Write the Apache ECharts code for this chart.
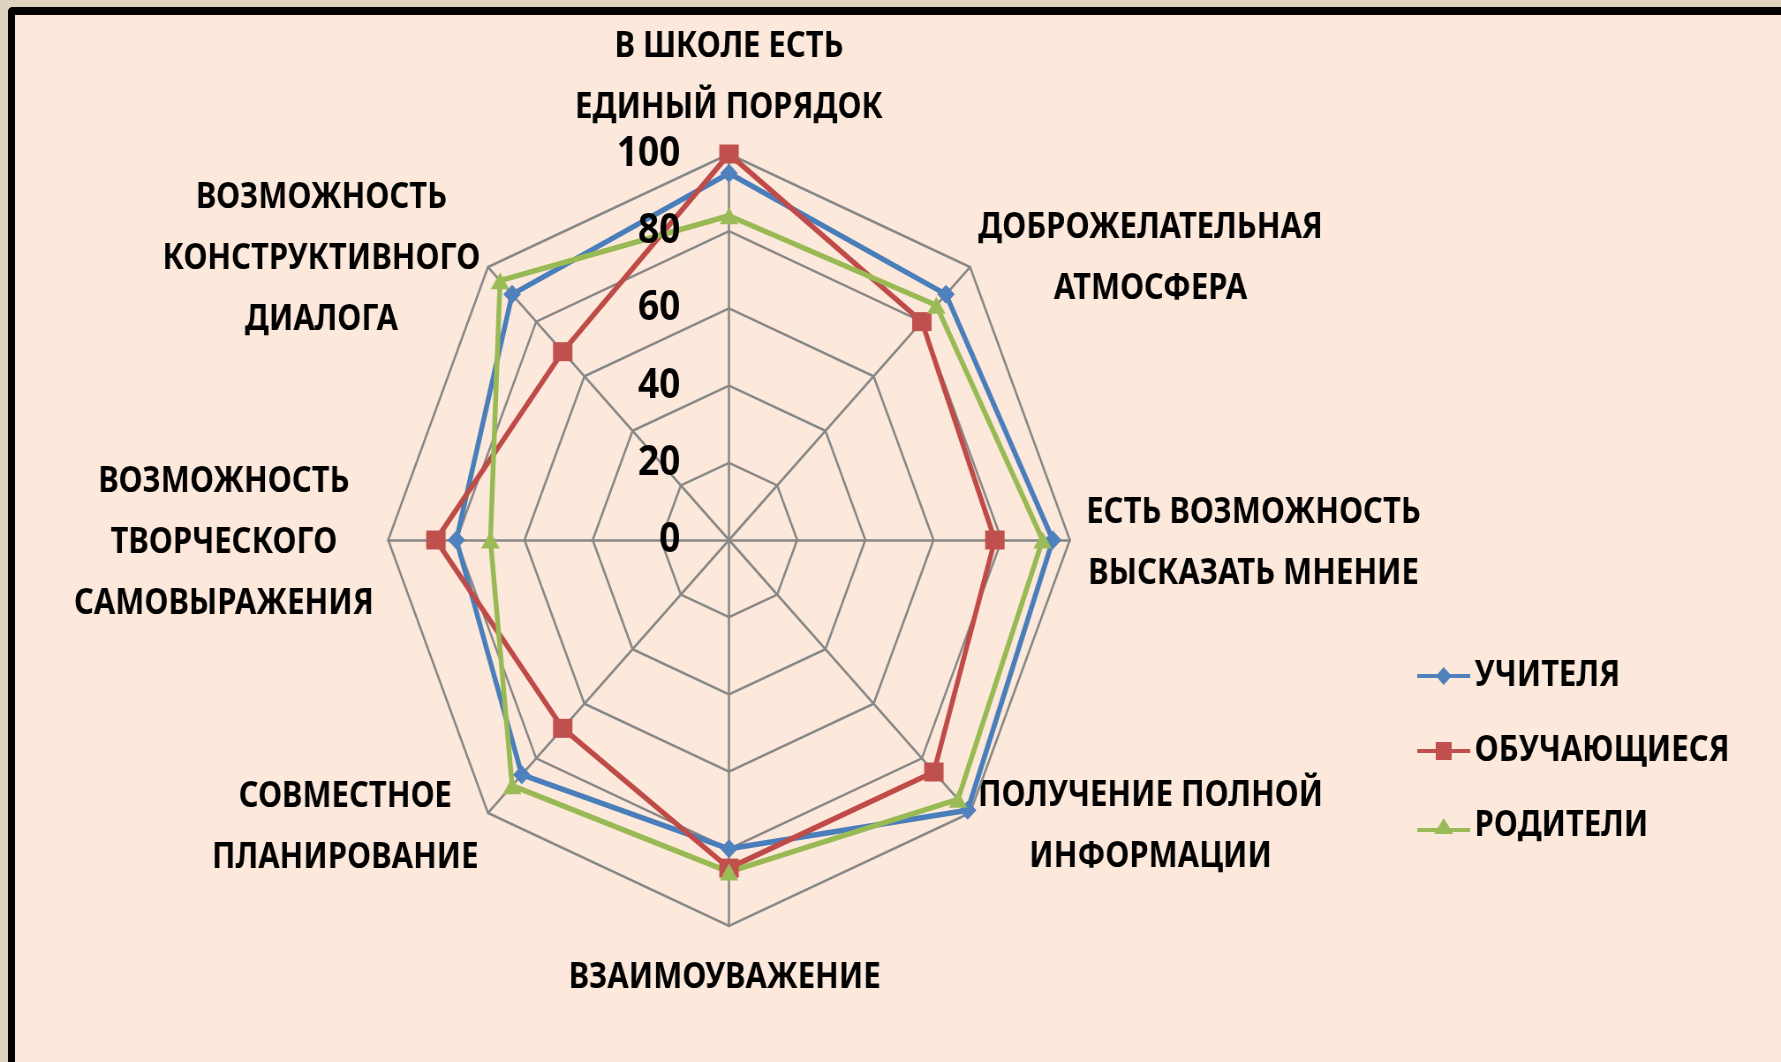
<!DOCTYPE html>
<html><head><meta charset="utf-8">
<script src="https://cdn.jsdelivr.net/npm/echarts@6/dist/echarts.min.js"></script>
<style>
html,body{margin:0;padding:0;width:1781px;height:1062px;overflow:hidden;background:#DCD2BE;}
#frame{position:absolute;left:8px;top:7px;width:1780px;height:1060px;border-left:7px solid #000;border-top:8px solid #000;background:#FDE9DB;border-top-left-radius:5px;}
#chart{position:absolute;left:0;top:0;width:2017px;height:1062px;transform:scaleX(0.883);transform-origin:0 0;}
</style></head><body>
<div id="frame"></div><div id="chart"></div>
<script>
// Categories, clockwise from the top
const categories = [
  'В ШКОЛЕ ЕСТЬ\nЕДИНЫЙ ПОРЯДОК',
  'ДОБРОЖЕЛАТЕЛЬНАЯ\nАТМОСФЕРА',
  'ЕСТЬ ВОЗМОЖНОСТЬ\nВЫСКАЗАТЬ МНЕНИЕ',
  'ПОЛУЧЕНИЕ ПОЛНОЙ\nИНФОРМАЦИИ',
  'ВЗАИМОУВАЖЕНИЕ',
  'СОВМЕСТНОЕ\nПЛАНИРОВАНИЕ',
  'ВОЗМОЖНОСТЬ\nТВОРЧЕСКОГО\nСАМОВЫРАЖЕНИЯ',
  'ВОЗМОЖНОСТЬ\nКОНСТРУКТИВНОГО\nДИАЛОГА'
];
const seriesNames = ['УЧИТЕЛЯ', 'ОБУЧАЮЩИЕСЯ', 'РОДИТЕЛИ'];
const teachers = [95, 90, 95, 99, 80, 86, 80, 90];
const students = [100, 80, 78, 85, 85, 69, 86, 69];
const parents  = [84, 86, 92, 95, 86, 90, 70, 95];
const tickValues = [0, 20, 40, 60, 80, 100];

// layout (design coordinates, before the horizontal squeeze)
const labelPos = [[825.6,78],[1303,259],[1419.6,543.5],[1303,826.5],[820.6,978.5],[391,827.5],[253.5,543.5],[364,259.5]];
const order = [0,7,6,5,4,3,2,1]; // ECharts radar runs counter-clockwise
const FONT = '"Noto Sans", "DejaVu Sans", sans-serif';
const CENTER = [825.6, 540], RADIUS = 386;

function makeIndicators(withLabel) {
  return order.map((i, k) => {
    const o = {name: categories[i], min: tickValues[0], max: tickValues[tickValues.length-1]};
    if (withLabel && k === 0) o.axisLabel = {show: true};
    return o;
  });
}

const icons = [
  'path://M0,8L23,8L30,1L37,8L60,8L60,12L37,12L30,19L23,12L0,12Z',
  'path://M0,8L21,8L21,1L39,1L39,8L60,8L60,12L39,12L39,19L21,19L21,12L0,12Z',
  'path://M0,11L23.1,11L30,1L36.9,11L60,11L60,15L39.6,15L41,17L19,17L20.4,15L0,15Z'
];
const lineColors = ['#4A7EBB', '#BE4B48', '#98B954'];
const fillColors = ['#4F81BD', '#C0504D', '#9BBB59'];
const symbols = ['diamond', 'rect', 'triangle'];
const symSizes = [[20,19],[22,19],[21,17]];
const values = [teachers, students, parents];

const chart = echarts.init(document.getElementById('chart'), null, {renderer: 'canvas'});
chart.setOption({
  backgroundColor: 'transparent',
  animation: false,
  radar: [{
    center: CENTER,
    radius: RADIUS,
    startAngle: 90,
    shape: 'polygon',
    splitNumber: tickValues.length - 1,
    indicator: makeIndicators(false),
    axisName: {show: false},
    splitArea: {show: false},
    splitLine: {lineStyle: {color: '#878787', width: 2.5}},
    axisLine: {lineStyle: {color: '#878787', width: 2.5}},
    axisTick: {show: false},
    axisLabel: {show: false},
    z: 1
  }, {
    // tick labels drawn above the series lines
    center: CENTER,
    radius: RADIUS,
    startAngle: 90,
    shape: 'polygon',
    splitNumber: tickValues.length - 1,
    indicator: makeIndicators(true),
    axisName: {show: false},
    splitArea: {show: false},
    splitLine: {show: false},
    axisLine: {show: false},
    axisTick: {show: false},
    axisLabel: {show: false, fontSize: 42, fontWeight: 'bold', color: '#000', fontFamily: FONT, margin: 55, padding: [12, 0, 0, 0]},
    z: 10
  }],
  legend: {
    orient: 'vertical',
    left: 1600,
    top: 651,
    itemWidth: 60,
    itemHeight: 20,
    itemGap: 35,
    selectedMode: false,
    textStyle: {fontSize: 35, fontWeight: 'bold', fontFamily: FONT, color: '#000', lineHeight: 40},
    data: seriesNames.map((n, k) => ({name: n, icon: icons[k]}))
  },
  graphic: categories.map((c, i) => ({
    type: 'text',
    x: labelPos[i][0],
    y: labelPos[i][1],
    style: {
      text: c,
      align: 'center', verticalAlign: 'middle',
      textAlign: 'center', textVerticalAlign: 'middle',
      font: 'bold 35px ' + FONT,
      lineHeight: 61,
      fill: '#000'
    }
  })),
  series: [{
    type: 'radar',
    radarIndex: 0,
    z: 2,
    data: seriesNames.map((n, k) => ({
      name: n,
      value: order.map(i => values[k][i]),
      symbol: symbols[k],
      symbolSize: symSizes[k],
      lineStyle: {color: lineColors[k], width: 5.5},
      itemStyle: {color: fillColors[k]}
    }))
  }]
});
</script>
</body></html>
